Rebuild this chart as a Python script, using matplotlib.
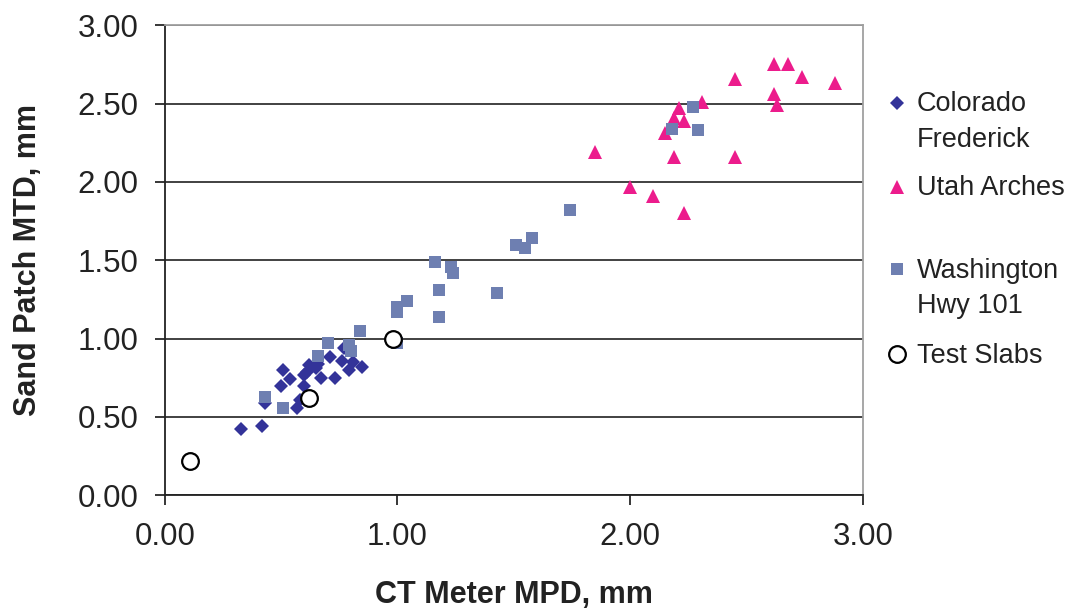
import matplotlib
matplotlib.use('Agg')
import matplotlib.pyplot as plt
from matplotlib.lines import Line2D

plt.rcParams['font.family'] = ['Liberation Sans', 'DejaVu Sans']

# data (mm)
colorado_x = [0.33, 0.42, 0.43, 0.50, 0.51, 0.54, 0.57, 0.58, 0.60, 0.60, 0.61, 0.62,
              0.65, 0.66, 0.67, 0.71, 0.73, 0.76, 0.77, 0.79, 0.81, 0.85]
colorado_y = [0.42, 0.44, 0.59, 0.70, 0.80, 0.74, 0.56, 0.61, 0.70, 0.77, 0.79, 0.83,
              0.81, 0.84, 0.75, 0.88, 0.75, 0.86, 0.94, 0.80, 0.85, 0.82]

utah_x = [1.85, 2.00, 2.10, 2.23, 2.19, 2.15, 2.19, 2.21, 2.23, 2.31, 2.45, 2.45,
          2.62, 2.63, 2.62, 2.68, 2.74, 2.88]
utah_y = [2.19, 1.97, 1.91, 1.80, 2.16, 2.31, 2.41, 2.47, 2.39, 2.51, 2.66, 2.16,
          2.56, 2.49, 2.75, 2.75, 2.67, 2.63]

wash_x = [0.43, 0.51, 0.66, 0.70, 0.79, 0.80, 0.84, 1.00, 1.00, 1.00, 1.04, 1.16,
          1.18, 1.18, 1.23, 1.24, 1.43, 1.51, 1.55, 1.58, 1.74, 2.18, 2.27, 2.29]
wash_y = [0.63, 0.56, 0.89, 0.97, 0.96, 0.92, 1.05, 0.97, 1.17, 1.20, 1.24, 1.49,
          1.14, 1.31, 1.46, 1.42, 1.29, 1.60, 1.58, 1.64, 1.82, 2.34, 2.48, 2.33]

slab_x = [0.11, 0.62, 0.98]
slab_y = [0.22, 0.62, 1.00]

ticks = [0.0, 0.5, 1.0, 1.5, 2.0, 2.5, 3.0]

c_col = '#333399'
c_utah = '#EC1C8C'
c_wash = '#6E7FB1'

fig = plt.figure(figsize=(10.78, 6.12), dpi=100)
ax = fig.add_axes([0.1528, 0.1907, 0.6475, 0.768])

ax.plot(colorado_x, colorado_y, 'D', color=c_col, ms=6.8, mew=0, ls='none', zorder=3)
ax.plot(utah_x, utah_y, '^', color=c_utah, ms=9.6, mew=0, ls='none', zorder=4)
ax.plot(wash_x, wash_y, 's', color=c_wash, ms=8.3, mew=0, ls='none', zorder=5)
ax.plot(slab_x, slab_y, 'o', mfc='white', mec='black', ms=12, mew=1.6, ls='none', zorder=6)

ax.set_xlim(0, 3)
ax.set_ylim(0, 3)
ax.set_xticks([0, 1, 2, 3])
ax.set_yticks(ticks)
ax.xaxis.set_major_formatter(matplotlib.ticker.FormatStrFormatter('%.2f'))
ax.yaxis.set_major_formatter(matplotlib.ticker.FormatStrFormatter('%.2f'))
ax.tick_params(axis='both', direction='out', length=7, width=1.1, labelsize=22.5,
               labelcolor='#222222')
ax.tick_params(axis='x', pad=12)
ax.tick_params(axis='y', pad=12)

ax.yaxis.grid(True, color='#333333', lw=1.3)
ax.set_axisbelow(True)
for s in ['left', 'bottom']:
    ax.spines[s].set_color('#222222')
    ax.spines[s].set_linewidth(1.3)
for s in ['top', 'right']:
    ax.spines[s].set_color('#A0A0A0')
    ax.spines[s].set_linewidth(1.3)

ax.set_xlabel('CT Meter MPD, mm', fontsize=22, fontweight='bold', color='#222222')
ax.xaxis.set_label_coords(0.5, -0.212)
ax.xaxis.label.set_va('center')
ax.set_ylabel('Sand Patch MTD, mm', fontsize=22, fontweight='bold', color='#222222')
ax.yaxis.set_label_coords(-0.196, 0.5)
ax.yaxis.label.set_va('center')

# legend drawn by hand (markers sit on the first text line, like the original)
W, H = 1078.0, 612.0
entries = [
    ('D', dict(color=c_col, ms=6.8, mew=0), 103, ['Colorado', 'Frederick'], [110.7, 146.7]),
    ('^', dict(color=c_utah, ms=9.6, mew=0), 187, ['Utah Arches'], [195.0]),
    ('s', dict(color=c_wash, ms=8.3, mew=0), 269, ['Washington', 'Hwy 101'], [278.3, 313.3]),
    ('o', dict(mfc='white', mec='black', ms=12, mew=1.6), 354, ['Test Slabs'], [362.7]),
]
for mk, kw, my, lines, bases in entries:
    fig.add_artist(Line2D([897 / W], [1 - my / H], marker=mk, ls='none',
                          transform=fig.transFigure, **kw))
    for txt, b in zip(lines, bases):
        fig.text(917 / W, 1 - b / H, txt, fontsize=19.5, color='#222222',
                 ha='left', va='baseline')

fig.savefig('out.png', dpi=100)
